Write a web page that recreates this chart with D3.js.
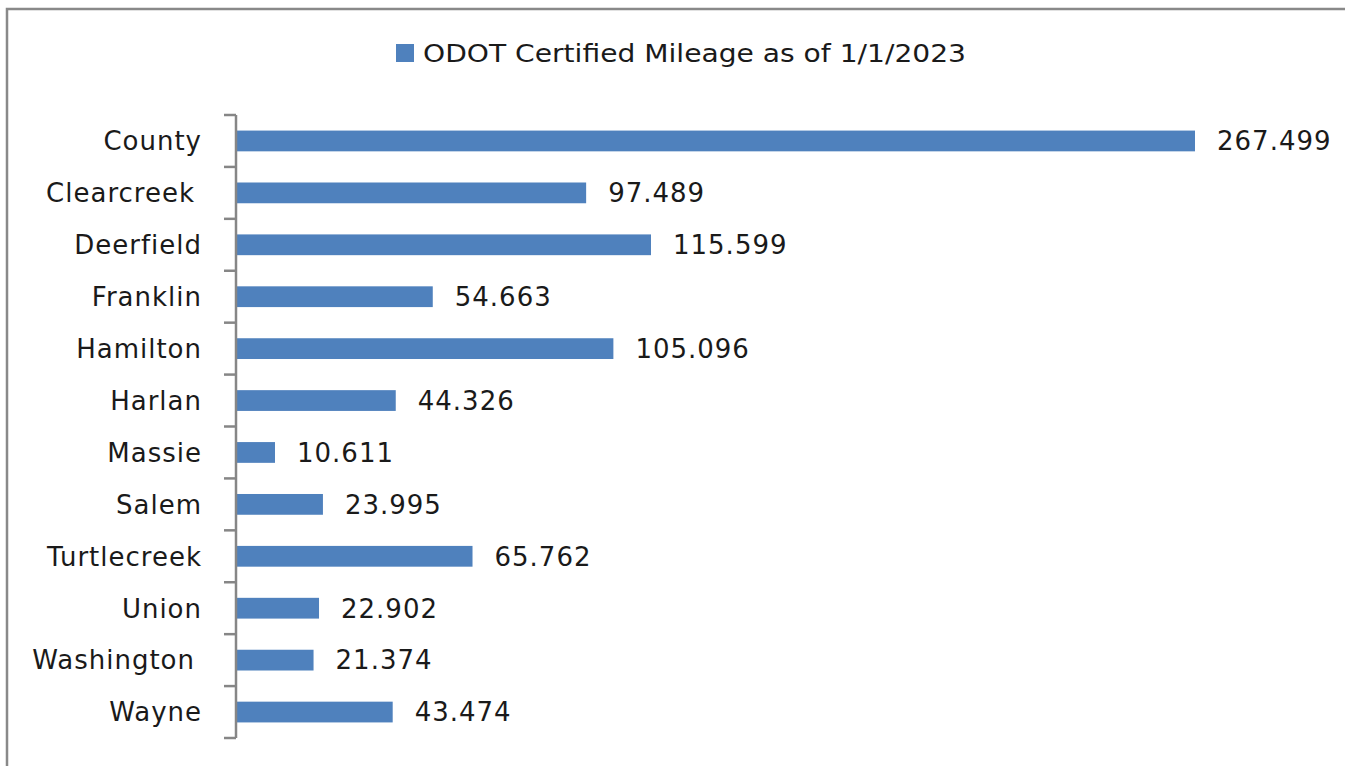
<!doctype html>
<html lang="en">
<head>
    <meta charset="UTF-8">
    <title>ODOT Certified Mileage</title>
    <style>
        body { margin: 0; background: #fff; }
        svg text { font-family: "DejaVu Sans", Verdana, sans-serif; fill: #1a1a1a; }
    </style>
</head>
<body>
<div class="svg"></div>
<script src="https://d3js.org/d3.v7.min.js"></script>
<script>
  const categories = ['County', 'Clearcreek', 'Deerfield', 'Franklin', 'Hamilton', 'Harlan',
    'Massie', 'Salem', 'Turtlecreek', 'Union', 'Washington', 'Wayne']
  const mileage = [267.499, 97.489, 115.599, 54.663, 105.096, 44.326,
    10.611, 23.995, 65.762, 22.902, 21.374, 43.474]
  const seriesName = 'ODOT Certified Mileage as of 1/1/2023'

  const width = 1345
  const height = 766
  const barColor = '#4f81bd'
  const axisColor = '#868686'

  const svg = d3.select('.svg')
    .append('svg')
    .attr('width', width)
    .attr('height', height)

  // chart frame
  svg.append('rect')
    .attr('x', 7).attr('y', 9)
    .attr('width', width + 20).attr('height', height + 20)
    .attr('fill', 'none')
    .attr('stroke', '#898989')
    .attr('stroke-width', 2.5)

  const xScale = d3.scaleLinear().domain([0, d3.max(mileage)]).range([237, 1195])
  const yScale = d3.scaleBand().domain(categories).range([115, 738])
    .paddingInner(0.6).paddingOuter(0.3)
  const yTicks = d3.scaleBand().domain(categories).range([115, 738])

  // bars
  svg.selectAll('rect.bar')
    .data(mileage)
    .enter()
    .append('rect')
    .attr('class', 'bar')
    .attr('x', xScale(0))
    .attr('y', (d, i) => yScale(categories[i]))
    .attr('width', d => xScale(d) - xScale(0))
    .attr('height', yScale.bandwidth())
    .style('fill', barColor)

  // value labels
  svg.selectAll('text.value')
    .data(mileage)
    .enter()
    .append('text')
    .attr('class', 'value')
    .attr('x', d => xScale(d) + 22)
    .attr('y', (d, i) => yScale(categories[i]) + yScale.bandwidth() / 2)
    .attr('dy', '0.36em')
    .style('font-size', '26px')
    .style('letter-spacing', '1px')
    .text(d => d3.format('.3f')(d))

  // y axis: line + ticks at band boundaries
  const axis = svg.append('g').attr('stroke', axisColor).attr('stroke-width', 2.5)
  axis.append('line')
    .attr('x1', 236).attr('x2', 236)
    .attr('y1', yTicks.range()[0]).attr('y2', yTicks.range()[1])
  const bounds = categories.map(c => yTicks(c)).concat([yTicks.range()[1]])
  axis.selectAll('line.tick')
    .data(bounds)
    .enter()
    .append('line')
    .attr('class', 'tick')
    .attr('x1', 224).attr('x2', 236)
    .attr('y1', d => d).attr('y2', d => d)

  // category labels
  svg.selectAll('text.cat')
    .data(categories)
    .enter()
    .append('text')
    .attr('class', 'cat')
    .attr('x', d => (d === 'Clearcreek' || d === 'Washington') ? 195 : 202)
    .attr('y', d => yScale(d) + yScale.bandwidth() / 2)
    .attr('dy', '0.36em')
    .attr('text-anchor', 'end')
    .style('font-size', '26px')
    .style('letter-spacing', '1px')
    .text(d => d)

  // legend
  const legend = svg.append('g')
  legend.append('rect')
    .attr('x', 396).attr('y', 44)
    .attr('width', 18).attr('height', 18)
    .style('fill', barColor)
  legend.append('text')
    .attr('x', 423).attr('y', 53)
    .attr('dy', '0.36em')
    .attr('textLength', 543)
    .attr('lengthAdjust', 'spacingAndGlyphs')
    .style('font-size', '25px')
    .text(seriesName)
</script>
</body>
</html>
